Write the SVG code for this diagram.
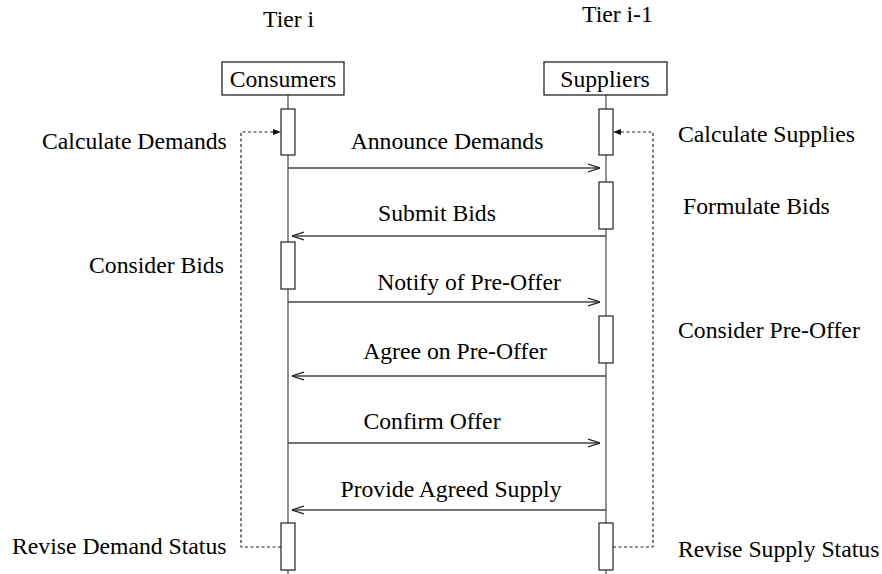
<svg xmlns="http://www.w3.org/2000/svg" width="882" height="574" viewBox="0 0 882 574">
  <style>
    text { font-family: "Liberation Serif", "Times New Roman", serif; font-size: 23.7px; fill: #000; }
    .mid { text-anchor: middle; }
    .life { stroke: #555; stroke-width: 1.3; fill: none; }
    .msg { stroke: #444; stroke-width: 1.3; fill: none; marker-end: url(#open); }
    .act { fill: #fff; stroke: #222; stroke-width: 1.2; }
    .head { fill: #fff; stroke: #111; stroke-width: 1.2; }
    .loop { stroke: #222; stroke-width: 1.2; fill: none; stroke-dasharray: 3 2.5; }
    .loop-in { marker-end: url(#solid); }
  </style>
  <defs>
    <marker id="open" markerUnits="userSpaceOnUse" viewBox="0 0 12 10" refX="12" refY="5" markerWidth="12" markerHeight="10" orient="auto">
      <path d="M0,1 L12,5 L0,9" fill="none" stroke="#222" stroke-width="1.2"/>
    </marker>
    <marker id="solid" markerUnits="userSpaceOnUse" viewBox="0 0 8 8" refX="8" refY="4" markerWidth="8" markerHeight="8" orient="auto">
      <path d="M0,1 L8,4 L0,7 Z" fill="#111"/>
    </marker>
  </defs>

  <!-- tier captions -->
  <text x="263" y="27">Tier i</text>
  <text x="582" y="22">Tier i-1</text>

  <!-- lifelines -->
  <g id="lifelines">
    <line class="life" x1="288" y1="95" x2="288" y2="574"/>
    <line class="life" x1="606" y1="95" x2="606" y2="574"/>
  </g>

  <!-- consumer side -->
  <g id="consumers">
    <rect class="head" x="222" y="62" width="122" height="33"/>
    <text class="mid" x="283" y="87">Consumers</text>
  </g>
  <g id="consumer-calc">
    <rect class="act" x="281" y="109" width="14" height="46"/>
    <text x="42" y="149">Calculate Demands</text>
  </g>
  <g id="consumer-bids">
    <rect class="act" x="281" y="242" width="14" height="47"/>
    <text x="89" y="273">Consider Bids</text>
  </g>
  <g id="consumer-revise">
    <rect class="act" x="281" y="523" width="14" height="47"/>
    <text x="12" y="554">Revise Demand Status</text>
  </g>

  <!-- supplier side -->
  <g id="suppliers">
    <rect class="head" x="544" y="62" width="123" height="33"/>
    <text class="mid" x="605" y="87">Suppliers</text>
  </g>
  <g id="supplier-calc">
    <rect class="act" x="599" y="109" width="14" height="46"/>
    <text x="678" y="142">Calculate Supplies</text>
  </g>
  <g id="supplier-bids">
    <rect class="act" x="599" y="182" width="14" height="47"/>
    <text x="683" y="214">Formulate Bids</text>
  </g>
  <g id="supplier-preoffer">
    <rect class="act" x="599" y="316" width="14" height="47"/>
    <text x="678" y="338">Consider Pre-Offer</text>
  </g>
  <g id="supplier-revise">
    <rect class="act" x="599" y="523" width="14" height="47"/>
    <text x="678" y="557">Revise Supply Status</text>
  </g>

  <!-- messages and status loops -->
  <g id="connectors">
    <line class="msg" x1="288" y1="168" x2="600" y2="168"/>
    <line class="msg" x1="606" y1="236" x2="292" y2="236"/>
    <line class="msg" x1="288" y1="302" x2="600" y2="302"/>
    <line class="msg" x1="606" y1="376" x2="292" y2="376"/>
    <line class="msg" x1="288" y1="443" x2="600" y2="443"/>
    <line class="msg" x1="606" y1="510" x2="292" y2="510"/>

    <path class="loop loop-in" d="M281,547 H241 V132 H281"/>
    <path class="loop loop-in" d="M613,547 H653 V132 H613"/>
  </g>

  <!-- message labels -->
  <g id="labels">
    <text class="mid" x="447" y="149">Announce Demands</text>
    <text class="mid" x="437" y="221">Submit Bids</text>
    <text class="mid" x="469" y="290">Notify of Pre-Offer</text>
    <text class="mid" x="455" y="359">Agree on Pre-Offer</text>
    <text class="mid" x="432" y="429">Confirm Offer</text>
    <text class="mid" x="451" y="497">Provide Agreed Supply</text>
  </g>
</svg>
